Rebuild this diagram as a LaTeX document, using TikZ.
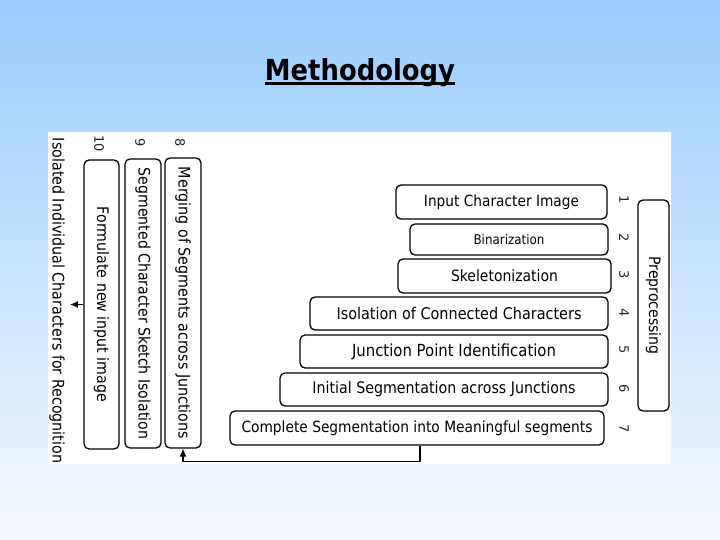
\documentclass[tikz,border=0pt]{standalone}
\usepackage{graphicx}
\usepackage{fontspec}
\setmainfont{DejaVu Sans}
\usetikzlibrary{arrows.meta}
\definecolor{skytop}{RGB}{153,204,255}
\definecolor{skybot}{RGB}{246,249,255}
\newcommand{\fitw}[2]{\scalebox{1}[1.12]{\resizebox{#1}{!}{#2}}}
\begin{document}
\begin{tikzpicture}[x=1pt,y=-1pt,
  stagebox/.style={draw=black, line width=1.3pt, rounded corners=5pt, fill=white, inner sep=0pt, font=\fontsize{12}{14}\selectfont},
  numlabel/.style={inner sep=1pt, rotate=-90, font=\fontsize{13}{15}\selectfont, text=black!85},
  arr/.style={draw=black, line width=1.2pt, -{Latex[length=8pt,width=7pt]}},
]
\shade[top color=skytop, bottom color=skybot] (0,0) rectangle (720,540);
\useasboundingbox (0,0) rectangle (720,540);
\fill[white] (48,132) rectangle (671,464);

% title
\node[anchor=base, inner sep=0pt, font=\bfseries] (title) at (360,81) {\fitw{190pt}{Methodology}};
\draw[line width=2.5pt] ([yshift=-2.5pt]title.base west) -- ([yshift=-2.5pt]title.base east);

% horizontal stages
\node[stagebox, minimum width=211pt, minimum height=34pt] (b1) at (501.5,202) {\fitw{155pt}{Input Character Image}};
\node[stagebox, minimum width=198pt, minimum height=31pt] (b2) at (509,239.5) {\fitw{71pt}{Binarization}};
\node[stagebox, minimum width=213pt, minimum height=34pt] (b3) at (504.5,276) {\fitw{107pt}{Skeletonization}};
\node[stagebox, minimum width=298pt, minimum height=33pt] (b4) at (459,313.5) {\fitw{245pt}{Isolation of Connected Characters}};
\node[stagebox, minimum width=308pt, minimum height=33pt] (b5) at (454,351.5) {\fitw{204pt}{Junction Point Identification}};
\node[stagebox, minimum width=328pt, minimum height=33pt] (b6) at (444,389.5) {\fitw{263pt}{Initial Segmentation across Junctions}};
\node[stagebox, minimum width=374pt, minimum height=34pt] (b7) at (417,428) {\fitw{351pt}{Complete Segmentation into Meaningful segments}};

% vertical stages
\node[stagebox, rotate=-90, minimum width=290pt, minimum height=36pt] (b8) at (183,303) {\fitw{272pt}{Merging of Segments across Junctions}};
\node[stagebox, rotate=-90, minimum width=289pt, minimum height=36pt] (b9) at (143,303.5) {\fitw{271pt}{Segmented Character Sketch Isolation}};
\node[stagebox, rotate=-90, minimum width=289pt, minimum height=35pt] (b10) at (101.5,304.5) {\fitw{195pt}{Formulate new input image}};

% preprocessing group
\node[stagebox, rotate=-90, minimum width=211pt, minimum height=31pt] (pre) at (653.5,305.5) {\fitw{98pt}{Preprocessing}};

% numbers
\node[numlabel] (n1) at (624,200) {1};
\node[numlabel] (n2) at (624,238) {2};
\node[numlabel] (n3) at (624,275) {3};
\node[numlabel] (n4) at (624,313) {4};
\node[numlabel] (n5) at (624,350) {5};
\node[numlabel] (n6) at (624,389) {6};
\node[numlabel] (n7) at (624,429) {7};
\node[numlabel] (n8) at (180,143) {8};
\node[numlabel] (n9) at (140,143) {9};
\node[numlabel] (n10) at (99,144) {10};

% output text
\node[rotate=-90, inner sep=5pt] (iso) at (57,300.5) {\fitw{325pt}{Isolated Individual Characters for Recognition}};

% connectors
\draw[arr] (b10.south) -- (b10.south -| iso.north);
\draw[arr] ([xshift=3pt]b7.south) -- ++(0,16) -| (b8.east);
\end{tikzpicture}
\end{document}
